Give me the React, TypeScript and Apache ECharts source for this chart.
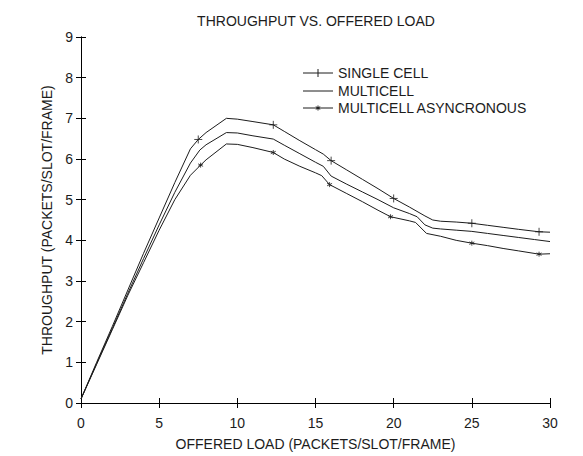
import React, { useEffect, useRef } from "react";
import * as echarts from "echarts";

// ---- data ----
const loadSingle = [0, 1, 2, 3, 4, 5, 6, 7, 7.5, 8, 9.3, 10, 11, 12.3, 13, 14, 15, 15.5, 16, 17, 18, 19, 20, 21, 22, 22.5, 23, 24, 25, 26, 27, 28, 29.3, 30];
const thrSingle = [0.1, 1.0, 1.88, 2.78, 3.68, 4.55, 5.42, 6.25, 6.48, 6.65, 7.0, 6.98, 6.92, 6.84, 6.68, 6.45, 6.23, 6.12, 5.96, 5.73, 5.5, 5.27, 5.03, 4.82, 4.6, 4.5, 4.47, 4.45, 4.42, 4.37, 4.32, 4.27, 4.21, 4.2];

const loadMulti = [0, 1, 2, 3, 4, 5, 6, 7, 7.6, 8, 9.3, 10, 11, 12.3, 13, 14, 15, 15.5, 16, 17, 18, 19, 20, 21, 21.5, 22, 22.5, 23, 24, 25, 26, 27, 28, 29, 30];
const thrMulti = [0.1, 0.97, 1.83, 2.7, 3.55, 4.38, 5.18, 5.9, 6.22, 6.35, 6.65, 6.64, 6.57, 6.49, 6.34, 6.13, 5.92, 5.82, 5.58, 5.38, 5.19, 5.0, 4.8, 4.66, 4.58, 4.38, 4.3, 4.28, 4.25, 4.22, 4.17, 4.12, 4.07, 4.02, 3.97];

const loadAsync = [0, 1, 2, 3, 4, 5, 6, 7, 7.65, 8, 9.3, 10, 11, 12.3, 13, 14, 15, 15.4, 15.9, 17, 18, 19, 19.8, 21, 21.4, 22.1, 23, 24, 25, 26, 27, 28, 29.3, 30];
const thrAsync = [0.1, 0.95, 1.8, 2.65, 3.45, 4.25, 5.0, 5.6, 5.85, 5.98, 6.37, 6.36, 6.28, 6.16, 6.0, 5.82, 5.66, 5.59, 5.37, 5.15, 4.95, 4.74, 4.58, 4.48, 4.44, 4.17, 4.1, 4.0, 3.93, 3.87, 3.8, 3.74, 3.66, 3.67];

const singleMarkLoads = [7.5, 12.3, 16, 20, 25, 29.3];
const asyncMarkLoads = [7.65, 12.3, 15.9, 19.8, 25, 29.3];

const seriesNames = ["SINGLE CELL", "MULTICELL", "MULTICELL ASYNCRONOUS"];
const xTicks = [0, 5, 10, 15, 20, 25, 30];
const yTicks = [0, 1, 2, 3, 4, 5, 6, 7, 8, 9];

const titleText = "THROUGHPUT VS. OFFERED LOAD";
const xTitle = "OFFERED LOAD (PACKETS/SLOT/FRAME)";
const yTitle = "THROUGHPUT (PACKETS/SLOT/FRAME)";

const pairs = (xs: number[], ys: number[]) => xs.map((x, i) => [x, ys[i]]);
const pick = (marks: number[], xs: number[], ys: number[]) =>
  marks.map((m) => [m, ys[xs.indexOf(m)]]);

const FONT = "'Liberation Sans', Arial, sans-serif";
const INK = "#1c1c1c";
const PLUS = "path://M0,5 L10,5 M5,0 L5,10";
const STAR = "path://M5,0 L5,10 M0.67,2.5 L9.33,7.5 M0.67,7.5 L9.33,2.5";

export default function App() {
  const ref = useRef<HTMLDivElement>(null);
  useEffect(() => {
    if (!ref.current) return;
    const chart = echarts.init(ref.current, undefined, { renderer: "svg" });
    const axisCommon = {
      type: "value" as const,
      axisLine: { show: true, lineStyle: { color: "#000", width: 1 } },
      axisTick: { show: true, inside: true, length: 5, lineStyle: { color: "#000" } },
      splitLine: { show: false },
    };
    const labelStyle = { color: INK, fontFamily: FONT, fontSize: 14 };
    const legendX = 303;
    const legendRows = [73, 91, 108];
    const lg: any[] = [];
    seriesNames.forEach((name, i) => {
      const y = legendRows[i];
      lg.push({ type: "line", shape: { x1: legendX, y1: y, x2: legendX + 30, y2: y }, style: { stroke: INK, lineWidth: 1 } });
      lg.push({ type: "text", x: legendX + 35, y, style: { text: name, fill: INK, font: `14px ${FONT}`, textVerticalAlign: "middle" } });
    });
    const cx = legendX + 15;
    lg.push({ type: "line", shape: { x1: cx, y1: legendRows[0] - 4, x2: cx, y2: legendRows[0] + 4 }, style: { stroke: INK, lineWidth: 1 } });
    lg.push({ type: "line", shape: { x1: cx, y1: legendRows[2] - 2.5, x2: cx, y2: legendRows[2] + 2.5 }, style: { stroke: INK, lineWidth: 1 } });
    lg.push({ type: "line", shape: { x1: cx - 2.2, y1: legendRows[2] - 1.3, x2: cx + 2.2, y2: legendRows[2] + 1.3 }, style: { stroke: INK, lineWidth: 1 } });
    lg.push({ type: "line", shape: { x1: cx - 2.2, y1: legendRows[2] + 1.3, x2: cx + 2.2, y2: legendRows[2] - 1.3 }, style: { stroke: INK, lineWidth: 1 } });

    chart.setOption({
      animation: false,
      backgroundColor: "#ffffff",
      grid: { left: 81, right: 33, top: 37, bottom: 50.5, containLabel: false },
      xAxis: [
        {
          ...axisCommon,
          min: 0,
          max: 30,
          interval: 5,
          axisLabel: { ...labelStyle, margin: 13, formatter: (v: number) => (xTicks.includes(v) ? String(v) : "") },
          name: xTitle,
          nameLocation: "middle",
          nameGap: 34,
          nameTextStyle: labelStyle,
        },
        { ...axisCommon, position: "top", min: 0, max: 30, interval: 5, axisLabel: { show: false } },
      ],
      yAxis: [
        {
          ...axisCommon,
          min: 0,
          max: 9,
          interval: 1,
          axisLabel: { ...labelStyle, margin: 8, formatter: (v: number) => (yTicks.includes(v) ? String(v) : "") },
          name: yTitle,
          nameLocation: "middle",
          nameGap: 15,
          nameTextStyle: labelStyle,
        },
        { ...axisCommon, position: "right", min: 0, max: 9, interval: 1, axisLabel: { show: false } },
      ],
      graphic: [
        { type: "text", x: 316, y: 21, style: { text: titleText, fill: INK, font: `14px ${FONT}`, textAlign: "center", textVerticalAlign: "middle" } },
        ...lg,
      ],
      series: [
        { name: seriesNames[0], type: "line", data: pairs(loadSingle, thrSingle), symbol: "none", lineStyle: { color: INK, width: 1 } },
        { name: seriesNames[1], type: "line", data: pairs(loadMulti, thrMulti), symbol: "none", lineStyle: { color: INK, width: 1 } },
        { name: seriesNames[2], type: "line", data: pairs(loadAsync, thrAsync), symbol: "none", lineStyle: { color: INK, width: 1 } },
        {
          name: seriesNames[0] + " markers",
          type: "scatter",
          data: pick(singleMarkLoads, loadSingle, thrSingle),
          symbol: PLUS,
          symbolSize: 8,
          itemStyle: { color: "none", borderColor: INK, borderWidth: 1 },
        },
        {
          name: seriesNames[2] + " markers",
          type: "scatter",
          data: pick(asyncMarkLoads, loadAsync, thrAsync),
          symbol: STAR,
          symbolSize: 5,
          itemStyle: { color: "none", borderColor: INK, borderWidth: 1 },
        },
      ],
    });
    return () => chart.dispose();
  }, []);
  return <div ref={ref} style={{ position: "fixed", left: 0, top: 0, width: 583, height: 456, background: "#fff" }} />;
}
